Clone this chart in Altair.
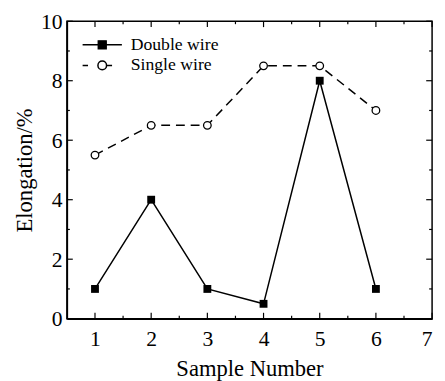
import altair as alt
import pandas as pd

samples = [1, 2, 3, 4, 5, 6]
double_wire = [1, 4, 1, 0.5, 8, 1]
single_wire = [5.5, 6.5, 6.5, 8.5, 8.5, 7]
series_names = ["Double wire", "Single wire"]
x_major = [1, 2, 3, 4, 5, 6, 7]
x_minor = [1.5, 2.5, 3.5, 4.5, 5.5, 6.5]
y_major = [0, 2, 4, 6, 8, 10]
y_minor = [1, 3, 5, 7, 9]

W, H = 372, 303
FONT = "Liberation Serif"

df = pd.DataFrame({
    "x": samples * 2,
    "y": double_wire + single_wire,
    "series": [series_names[0]] * len(samples) + [series_names[1]] * len(samples),
})

xs = alt.Scale(domain=[0.5, 7], nice=False, zero=False)
ys = alt.Scale(domain=[0, 10], nice=False)

# legend glyphs (symbol size 100 -> path scale 5 px per unit)
path_double = "M-4,0H4M-0.8,-0.8H0.8V0.8H-0.8Z"
path_single = ("M-4,0H-2.9M0.88,0H2M0.88,0A0.88,0.88 0 1,1 -0.88,0"
               "A0.88,0.88 0 1,1 0.88,0Z")

base = alt.Chart(df)
xenc = alt.X("x:Q", scale=xs, axis=alt.Axis(
    values=x_major, ticks=False, title="Sample Number", labelPadding=10,
    titlePadding=9, grid=False, format="d"))
yenc = alt.Y("y:Q", scale=ys, axis=alt.Axis(
    values=y_major, ticks=False, title="Elongation/%", labelPadding=5,
    titlePadding=4, grid=False, format="d"))

line_double = base.transform_filter(alt.datum.series == series_names[0]).mark_line(
    color="black", strokeWidth=1.5).encode(x=xenc, y=yenc)
line_single = base.transform_filter(alt.datum.series == series_names[1]).mark_line(
    color="black", strokeWidth=1.5, strokeDash=[9, 6]).encode(x=xenc, y=yenc)

squares = base.transform_filter(alt.datum.series == series_names[0]).mark_square(
    color="black", opacity=1, size=64).encode(x=xenc, y=yenc)

circles = base.transform_filter(alt.datum.series == series_names[1]).mark_point(
    shape="circle", fill="white", stroke="black", filled=False, opacity=1,
    fillOpacity=1, strokeWidth=1.3, size=60).encode(x=xenc, y=yenc)

legend = alt.Legend(title=None, orient="none", legendX=27, legendY=15)

legend_layer = base.mark_point(
    filled=False, strokeWidth=1.5, size=0).encode(
    x=xenc, y=yenc,
    shape=alt.Shape("series:N", scale=alt.Scale(
        domain=series_names, range=[path_double, path_single]), legend=legend),
    fill=alt.Fill("series:N", scale=alt.Scale(
        domain=series_names, range=["black", "white"]), legend=legend),
    stroke=alt.Stroke("series:N", scale=alt.Scale(
        domain=series_names, range=["black", "black"]), legend=legend),
)

def xticks(vals, length):
    d = pd.DataFrame({"t": vals})
    bot = alt.Chart(d).mark_rule(color="black", strokeWidth=1.2).encode(
        x=alt.X("t:Q", scale=xs), y=alt.value(H), y2=alt.value(H - length))
    top = alt.Chart(d).mark_rule(color="black", strokeWidth=1.2).encode(
        x=alt.X("t:Q", scale=xs), y=alt.value(0), y2=alt.value(length))
    return [bot, top]

def yticks(vals, length):
    d = pd.DataFrame({"t": vals})
    left = alt.Chart(d).mark_rule(color="black", strokeWidth=1.2).encode(
        y=alt.Y("t:Q", scale=ys), x=alt.value(0), x2=alt.value(length))
    right = alt.Chart(d).mark_rule(color="black", strokeWidth=1.2).encode(
        y=alt.Y("t:Q", scale=ys), x=alt.value(W), x2=alt.value(W - length))
    return [left, right]

ticks = xticks(x_major, 6) + xticks(x_minor, 3) + yticks(y_major, 6) + yticks(y_minor, 3)

chart = alt.layer(line_double, line_single, squares, circles, legend_layer, *ticks).properties(
    width=W, height=H,
    background="white",
    autosize=alt.AutoSizeParams(type="none"),
    padding={"left": 60, "top": 10, "right": 5, "bottom": 60},
).configure_view(
    stroke="black", strokeWidth=1.5
).configure_axis(
    domainColor="black", domainWidth=1.5,
    labelFont=FONT, labelFontSize=22, labelColor="black",
    titleFont=FONT, titleFontSize=23, titleColor="black", titleFontWeight="normal",
).configure_legend(
    labelFont=FONT, labelFontSize=18, labelColor="black", labelOffset=20,
    symbolSize=100, symbolStrokeWidth=1.5, padding=0, rowPadding=3,
    symbolOpacity=1,
)

chart.save("out.html", embed_options={"renderer": "svg", "actions": False})
